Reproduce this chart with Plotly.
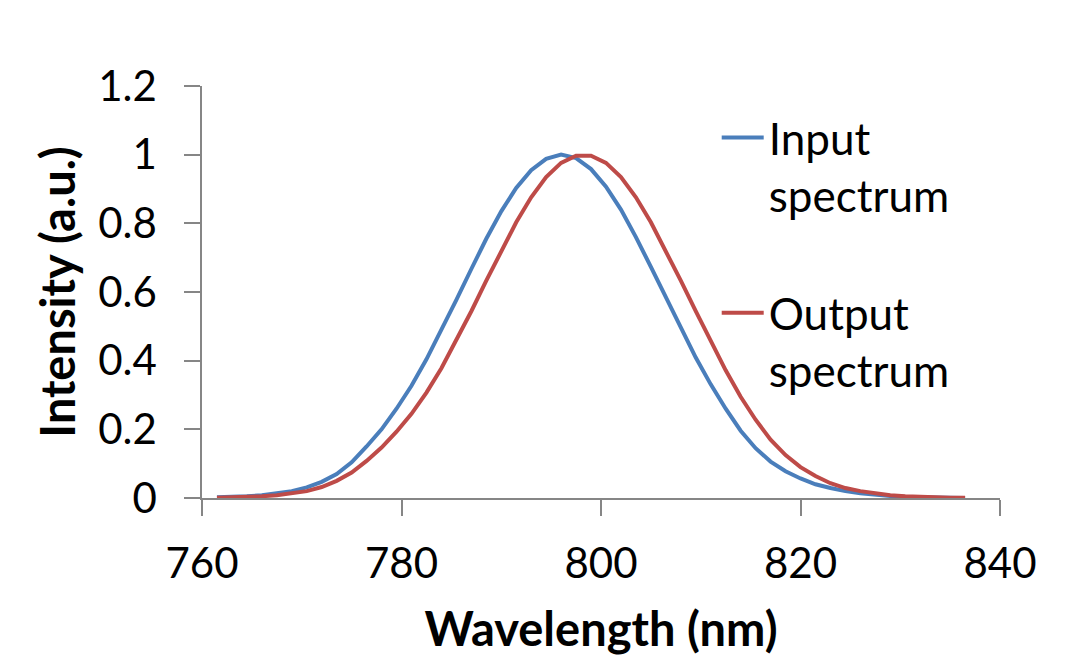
import plotly.graph_objects as go

wavelength = [761.5, 763, 764.5, 766, 767.5, 769, 770.5, 772, 773.5, 775,
              776.5, 778, 779.5, 781, 782.5, 784, 785.5, 787, 788.5, 790,
              791.5, 793, 794.5, 796, 797.5, 799, 800.5, 802, 803.5, 805,
              806.5, 808, 809.5, 811, 812.5, 814, 815.5, 817, 818.5, 820,
              821.5, 823, 824.5, 826, 827.5, 829, 830.5, 832, 833.5, 835, 836.5]

input_spectrum = [0.002, 0.003, 0.005, 0.008, 0.013, 0.020, 0.031, 0.047, 0.070, 0.104,
                  0.150, 0.200, 0.260, 0.327, 0.404, 0.488, 0.577, 0.667, 0.755, 0.835,
                  0.903, 0.955, 0.988, 1.000, 0.990, 0.958, 0.907, 0.840, 0.760, 0.673,
                  0.583, 0.494, 0.409, 0.331, 0.260, 0.196, 0.145, 0.106, 0.078, 0.057,
                  0.040, 0.029, 0.020, 0.014, 0.009, 0.006, 0.003, 0.002, 0.001, 0.001, 0.000]

output_spectrum = [0.001, 0.002, 0.003, 0.005, 0.008, 0.013, 0.020, 0.032, 0.050, 0.074,
                   0.108, 0.147, 0.193, 0.245, 0.307, 0.378, 0.458, 0.544, 0.633, 0.721,
                   0.803, 0.876, 0.935, 0.976, 0.997, 0.997, 0.976, 0.935, 0.876, 0.803,
                   0.721, 0.633, 0.544, 0.458, 0.372, 0.295, 0.228, 0.170, 0.125, 0.090,
                   0.064, 0.043, 0.029, 0.020, 0.013, 0.008, 0.005, 0.003, 0.002, 0.001, 0.001]

x_ticks = [760, 780, 800, 820, 840]
y_ticks = [0, 0.2, 0.4, 0.6, 0.8, 1.0, 1.2]
y_tick_labels = ["0", "0.2", "0.4", "0.6", "0.8", "1", "1.2"]

FONT = "Lato"
AXIS_COLOR = "#868686"

fig = go.Figure()
fig.add_trace(go.Scatter(x=wavelength, y=input_spectrum, mode="lines",
                         name="Input<br>spectrum", showlegend=True,
                         line=dict(color="#4A7EBB", width=4), legend="legend"))
fig.add_trace(go.Scatter(x=wavelength, y=output_spectrum, mode="lines",
                         name="Output<br>spectrum", showlegend=True,
                         line=dict(color="#BE4B48", width=4), legend="legend2"))

fig.update_layout(
    width=1087, height=671,
    margin=dict(l=194, r=95, t=78, b=181),
    paper_bgcolor="white", plot_bgcolor="white",
    showlegend=True,
    font=dict(family=FONT, color="black", size=42),
    legend=dict(x=0.645, y=0.96, xanchor="left", yanchor="top",
                font=dict(family=FONT, size=44, color="black"),
                valign="top", bgcolor="rgba(0,0,0,0)", itemwidth=42),
    legend2=dict(x=0.645, y=0.535, xanchor="left", yanchor="top",
                 font=dict(family=FONT, size=44, color="black"),
                 valign="top", bgcolor="rgba(0,0,0,0)", itemwidth=42),
)

fig.update_xaxes(
    range=[760, 840], tickmode="array", tickvals=x_ticks,
    showgrid=False, zeroline=False,
    showline=True, linecolor=AXIS_COLOR, linewidth=1.5,
    ticks="outside", ticklen=16, tickcolor=AXIS_COLOR, tickwidth=1.5,
    tickfont=dict(family=FONT, size=42, color="black"),
    ticklabelstandoff=12,
    title=dict(text="<b>Wavelength (nm)</b>", font=dict(family=FONT, size=47, color="black"), standoff=27),
)
fig.update_yaxes(
    range=[0, 1.2], tickmode="array", tickvals=y_ticks, ticktext=y_tick_labels,
    showgrid=False, zeroline=False,
    showline=True, linecolor=AXIS_COLOR, linewidth=1.5,
    ticks="outside", ticklen=16, tickcolor=AXIS_COLOR, tickwidth=1.5,
    tickfont=dict(family=FONT, size=42, color="black"),
    ticklabelstandoff=19,
    title=dict(text="<b>Intensity (a.u.)</b>", font=dict(family=FONT, size=47, color="black"), standoff=8),
)

fig.write_html("out.html")
